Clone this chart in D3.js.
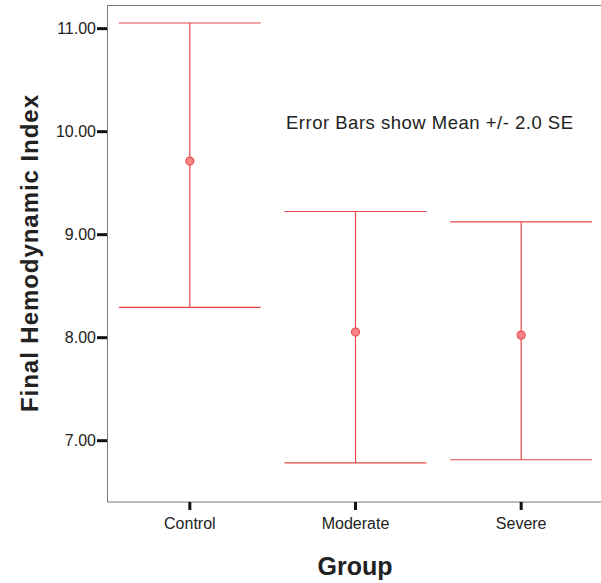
<!DOCTYPE html>
<html>
<head>
<meta charset="utf-8">
<script src="https://cdn.jsdelivr.net/npm/d3@7"></script>
<style>
  html, body { margin: 0; padding: 0; background: #fff; }
  svg { display: block; font-family: Arial, "Liberation Sans", sans-serif; }
</style>
</head>
<body>
<svg id="chart" width="601" height="583"></svg>
<script>
// ---- data ----
const groups = ["Control", "Moderate", "Severe"];
const means = [9.71, 8.05, 8.02];
const upper = [11.05, 9.22, 9.12];
const lower = [8.29, 6.78, 6.81];
const yTicks = [7, 8, 9, 10, 11];
const yTitle = "Final Hemodynamic Index";
const xTitle = "Group";
const note = "Error Bars show Mean +/- 2.0 SE";

const data = groups.map((g, i) => ({ g, mean: means[i], hi: upper[i], lo: lower[i] }));

const svg = d3.select("#chart");
const mLeft = 107, mRight = 604, mTop = 5.5, mBottom = 502;

const x = d3.scaleBand().domain(groups).range([mLeft, mRight]).paddingInner(0).paddingOuter(0);
const y = d3.scaleLinear().domain([6.4, 11.22]).range([mBottom, mTop]);

// frame
svg.append("rect")
  .attr("x", mLeft + 0.5).attr("y", mTop)
  .attr("width", 620 - mLeft).attr("height", mBottom - mTop)
  .attr("fill", "none").attr("stroke", "#7a7a7a").attr("stroke-width", 1);

// y axis
const yAxis = d3.axisLeft(y).tickValues(yTicks).tickFormat(d3.format(".2f")).tickSize(10).tickPadding(1);
const gy = svg.append("g").attr("transform", `translate(${mLeft},0)`).call(yAxis);
gy.select(".domain").remove();
gy.selectAll(".tick line").attr("stroke", "#111").attr("stroke-width", 3);
gy.selectAll(".tick text").attr("fill", "#222").attr("font-size", 16)
  .attr("font-family", "Arial, 'Liberation Sans', sans-serif");

// x axis
const xAxis = d3.axisBottom(x).tickSize(8).tickPadding(8);
const gx = svg.append("g").attr("transform", `translate(0,${mBottom})`).call(xAxis);
gx.select(".domain").remove();
gx.selectAll(".tick line").attr("stroke", "#111").attr("stroke-width", 3);
gx.selectAll(".tick text").attr("fill", "#222").attr("font-size", 16)
  .attr("font-family", "Arial, 'Liberation Sans', sans-serif");

// error bars
const capW = x.bandwidth() * 0.857;
const red = "#e8474a";
const cx = d => x(d.g) + x.bandwidth() / 2;
const eb = svg.append("g").selectAll("g").data(data).join("g");
eb.append("line")
  .attr("x1", cx).attr("x2", cx)
  .attr("y1", d => y(d.hi)).attr("y2", d => y(d.lo))
  .attr("stroke", red).attr("stroke-width", 1.2);
eb.append("line")
  .attr("x1", d => cx(d) - capW / 2).attr("x2", d => cx(d) + capW / 2)
  .attr("y1", d => y(d.hi)).attr("y2", d => y(d.hi))
  .attr("stroke", red).attr("stroke-width", 1.2);
eb.append("line")
  .attr("x1", d => cx(d) - capW / 2).attr("x2", d => cx(d) + capW / 2)
  .attr("y1", d => y(d.lo)).attr("y2", d => y(d.lo))
  .attr("stroke", red).attr("stroke-width", 1.2);
eb.append("circle")
  .attr("cx", cx).attr("cy", d => y(d.mean))
  .attr("r", 4).attr("fill", "#f58484").attr("stroke", "#ea5050").attr("stroke-width", 1.2);

// annotation
svg.append("text").attr("x", 286).attr("y", 128.5)
  .attr("font-size", 18.5).attr("fill", "#222")
  .attr("textLength", 287).attr("lengthAdjust", "spacing")
  .text(note);

// axis titles
svg.append("text").attr("x", 355).attr("y", 575).attr("text-anchor", "middle")
  .attr("font-size", 25).attr("font-weight", "bold").attr("fill", "#222")
  .text(xTitle);
svg.append("text").attr("transform", "translate(38,253.5) rotate(-90)").attr("text-anchor", "middle")
  .attr("font-size", 24).attr("font-weight", "bold").attr("fill", "#222")
  .attr("textLength", 317).attr("lengthAdjust", "spacing")
  .text(yTitle);
</script>
</body>
</html>
